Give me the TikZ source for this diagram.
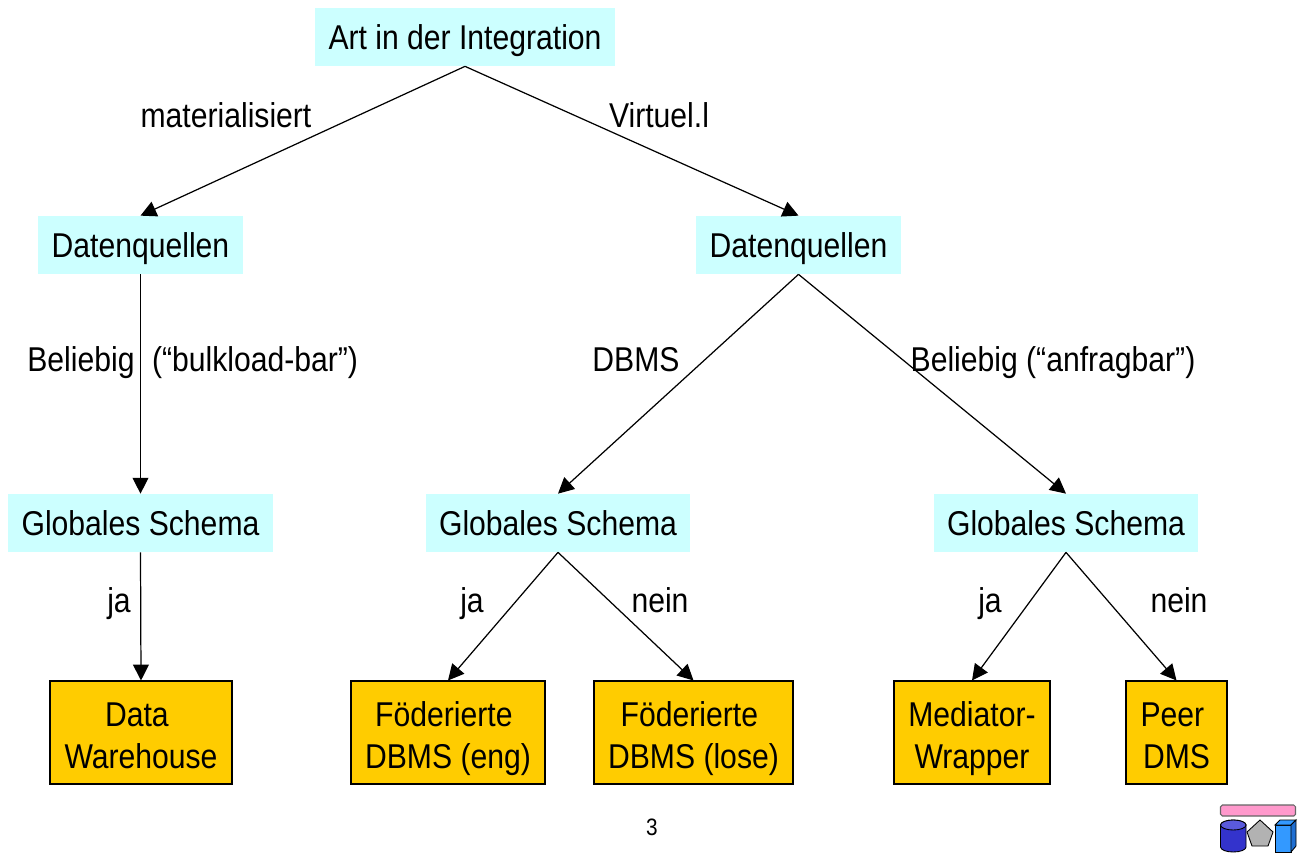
\documentclass[tikz,border=0pt]{standalone}
\usepackage{fontspec}
\setmainfont[FakeStretch=0.875]{Liberation Sans}
\usetikzlibrary{arrows.meta}
\definecolor{frage}{RGB}{204,255,255}
\definecolor{antwort}{RGB}{255,204,0}
\newcommand{\rz}{\hspace*{0.24em}}
\tikzset{
    frage_n/.style={fill=frage, inner sep=0pt, text height=14.7pt, text depth=0pt},
    antwort_n/.style={fill=antwort, draw, line width=0.6pt, inner sep=0pt, align=center, text height=41.4pt, text depth=0pt},
    kante_l/.style={inner sep=0pt, text height=13.6pt, text depth=0pt},
    pfeil/.style={line width=0.7pt, -{Triangle[length=9pt,width=9pt]}}
}
\begin{document}
\begin{tikzpicture}[x=0.02cm, y=-0.02cm, font=\fontsize{19.6}{24.4}\selectfont]
                \useasboundingbox (0,0) rectangle (1300,852);
                \node(art) at(465, 37) [frage_n, minimum width=300*0.02cm, minimum height=58*0.02cm] {Art in der Integration};
                \node(quelle_m) at(140.5, 245) [frage_n, minimum width=205*0.02cm, minimum height=58*0.02cm] {Datenquellen};
                \node(quelle_v) at(798.5, 245) [frage_n, minimum width=205*0.02cm, minimum height=58*0.02cm] {Datenquellen};
                \node(schema_w) at(140.5, 523) [frage_n, minimum width=265*0.02cm, minimum height=58*0.02cm] {Globales Schema};
                \node(schema_d) at(558, 523) [frage_n, minimum width=264*0.02cm, minimum height=58*0.02cm] {Globales Schema};
                \node(schema_b) at(1066, 523) [frage_n, minimum width=264*0.02cm, minimum height=58*0.02cm] {Globales Schema};
                \node(dw) at(141, 732.5) [antwort_n, minimum width=182*0.02cm, minimum height=103*0.02cm] {Data\rz\\Warehouse};
                \node(fed_eng) at(448, 732.5) [antwort_n, minimum width=194*0.02cm, minimum height=103*0.02cm] {Föderierte\rz\\DBMS (eng)};
                \node(fed_lose) at(693.5, 732.5) [antwort_n, minimum width=199*0.02cm, minimum height=103*0.02cm] {Föderierte\rz\\DBMS (lose)};
                \node(med) at(972, 732.5) [antwort_n, minimum width=156*0.02cm, minimum height=103*0.02cm] {Mediator-\\Wrapper};
                \node(peer) at(1176.5, 732.5) [antwort_n, minimum width=101*0.02cm, minimum height=103*0.02cm] {Peer\rz\\DMS};
                \draw[pfeil] (art.south) -- (quelle_m.north);
                \draw[pfeil] (art.south) -- (quelle_v.north);
                \draw[pfeil] (quelle_m.south) -- (schema_w.north);
                \draw[pfeil] (quelle_v.south) -- (schema_d.north);
                \draw[pfeil] (quelle_v.south) -- (schema_b.north);
                \draw[pfeil] (schema_w.south) -- (dw.north);
                \draw[pfeil] (schema_d.south) -- (fed_eng.north);
                \draw[pfeil] (schema_d.south) -- (fed_lose.north);
                \draw[pfeil] (schema_b.south) -- (med.north);
                \draw[pfeil] (schema_b.south) -- (peer.north);
                \node(l_mat) at(226, 116) [kante_l] {materialisiert};
                \node(l_vir) at(659, 116) [kante_l] {Virtuel.l};
                \node(l_bel) at(81, 360) [kante_l] {Beliebig};
                \node(l_bulk) at(255, 360) [kante_l] {(“bulkload-bar”)};
                \node(l_dbms) at(636, 360) [kante_l] {DBMS};
                \node(l_anf) at(1053, 360) [kante_l] {Beliebig (“anfragbar”)};
                \node(l_ja1) at(119, 601) [kante_l] {ja};
                \node(l_ja2) at(472, 601) [kante_l] {ja};
                \node(l_nein2) at(660, 601) [kante_l] {nein};
                \node(l_ja3) at(990, 601) [kante_l] {ja};
                \node(l_nein3) at(1179, 601) [kante_l] {nein};
                \node(seite) at(652, 827) [inner sep=0pt, font=\fontsize{13.5}{16}\selectfont] {3};
                \draw[fill={rgb,255:red,255;green,153;blue,204}, draw=black!60, line width=0.6pt, rounded corners=1pt] (1220.5,805) rectangle (1295.5,816);
                \draw[fill={rgb,255:red,51;green,51;blue,204}, line width=0.5pt] (1220.5,825) -- (1220.5,847) arc[start angle=180, end angle=360, x radius=12.75, y radius=-5] -- (1246,825) arc[start angle=0, end angle=180, x radius=12.75, y radius=-5] -- cycle;
                \draw[fill={rgb,255:red,90;green,90;blue,220}, line width=0.5pt] (1233.25,825) ellipse[x radius=12.75, y radius=5];
                \draw[fill={rgb,255:red,178;green,178;blue,178}, line width=0.5pt] (1260,820) -- (1273,832) -- (1268,846) -- (1252,846) -- (1247,832) -- cycle;
                \draw[fill={rgb,255:red,51;green,153;blue,255}, line width=0.5pt] (1275,825) rectangle (1291,852);
                \draw[fill={rgb,255:red,51;green,153;blue,255}, line width=0.5pt] (1275,825) -- (1280,820) -- (1296,820) -- (1291,825) -- cycle;
                \draw[fill={rgb,255:red,30;green,110;blue,210}, line width=0.5pt] (1291,825) -- (1296,820) -- (1296,846) -- (1291,852) -- cycle;
            \end{tikzpicture}
\end{document}
